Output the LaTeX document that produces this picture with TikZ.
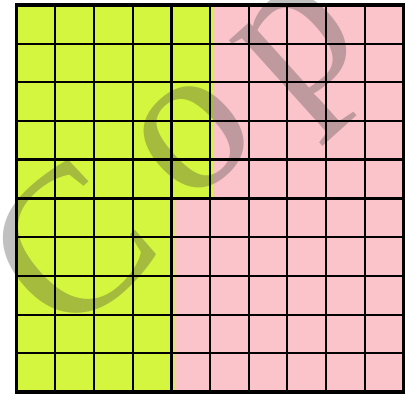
\documentclass[tikz,border=0pt]{standalone}
\usepackage{fontspec}
\newfontfamily\wmfont{Liberation Serif}
\definecolor{limefill}{RGB}{212,246,62}
\definecolor{pinkfill}{RGB}{251,196,202}
\tikzset{
  gridline/.style={draw=black, line width=2.1pt},
  gridthick/.style={draw=black, line width=2.8pt},
  frameline/.style={draw=black, line width=3.4pt},
  watermark/.style={text=gray!50!black, text opacity=0.32, inner sep=0pt, font=\wmfont\fontsize{210}{210}\selectfont}
}
\begin{document}
\begin{tikzpicture}[x=1pt,y=-1pt]
\useasboundingbox (0,0) rectangle (416,394);
\fill[white] (0,0) rectangle (416,394);
% coloured regions
\fill[pinkfill] (16.5,5) rectangle (403.5,392);
\fill[limefill] (16.5,5) -- (213.3,5) -- (213.3,198.5) -- (174.6,198.5) -- (174.6,392) -- (16.5,392) -- cycle;
% watermark
\node[watermark, rotate=42, anchor=base west] (wm) at (52,330) {\raisebox{-18pt}{C}\kern42pt o\kern34pt p};
% grid lines
\foreach \i in {1,3,5,6,7,8,9} {
  \draw[gridline] ({16.5+38.7*\i},5) -- ({16.5+38.7*\i},392);
}
\foreach \i in {2,4} {
  \draw[gridthick] ({16.5+38.7*\i},5) -- ({16.5+38.7*\i},392);
}
\foreach \j in {1,2,3,5,6,8,9} {
  \draw[gridline] (16.5,{5+38.7*\j}) -- (403.5,{5+38.7*\j});
}
\foreach \j in {4,7} {
  \draw[gridthick] (16.5,{5+38.7*\j}) -- (403.5,{5+38.7*\j});
}
\draw[frameline] (16.5,5) rectangle (403.5,392);
\end{tikzpicture}
\end{document}
